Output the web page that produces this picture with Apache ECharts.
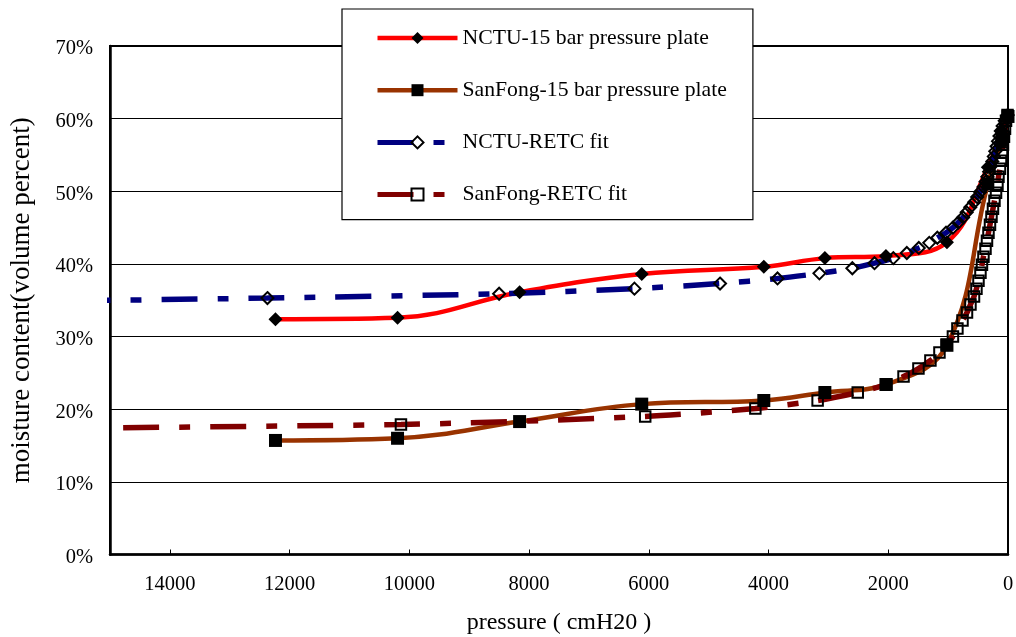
<!DOCTYPE html>
<html>
<head>
<meta charset="utf-8">
<script src="https://cdn.jsdelivr.net/npm/echarts@6/dist/echarts.min.js"></script>
<style>
html,body{margin:0;padding:0;background:#fff;}
#chart{width:1016px;height:637px;}
</style>
</head>
<body>
<div id="chart"></div>
<script>
// Measured pressure (cmH2O) for 15-bar pressure plate tests
const measPressure = [0, 102, 337, 1020, 2039, 3059, 4079, 6118, 8158, 10197, 12236];
const nctuMeasured = [60.5, 58.3, 53.3, 43.0, 41.1, 40.8, 39.6, 38.6, 36.1, 32.6, 32.4];
const sanfongMeasured = [60.3, 57.0, 51.0, 28.8, 23.4, 22.3, 21.2, 20.7, 18.3, 16.0, 15.7];

// RETC fitted curves (pressure, moisture %)
const nctuFitPressure = [18500, 12370, 8500, 6240, 4810, 3850, 3150, 2600, 2230, 1915, 1690, 1490, 1315, 1180, 1035, 920, 830, 750, 690, 630, 565, 515, 465, 410, 375, 345, 315, 290, 262, 237, 213, 190, 167, 143, 120, 90, 55, 15];
const nctuFitMoisture = [34.6, 35.3, 35.9, 36.6, 37.3, 38.0, 38.7, 39.4, 40.1, 40.8, 41.5, 42.2, 42.9, 43.6, 44.3, 45.0, 45.7, 46.4, 47.1, 47.8, 48.5, 49.2, 49.9, 50.6, 51.3, 52.0, 52.7, 53.4, 54.1, 54.8, 55.5, 56.2, 56.9, 57.6, 58.3, 59.0, 59.7, 60.4];
const sanfongFitPressure = [23500, 10140, 6060, 4220, 3180, 2510, 2030, 1745, 1496, 1296, 1145, 1025, 920, 845, 760, 685, 627, 568, 527, 493, 460, 435, 410, 376, 351, 326, 301, 276, 251, 226, 200, 176, 159, 134, 117, 100, 84, 67, 50, 33, 8];
const sanfongFitMoisture = [16.8, 17.9, 19.0, 20.1, 21.2, 22.3, 23.4, 24.5, 25.6, 26.7, 27.8, 28.9, 30.0, 31.1, 32.2, 33.3, 34.4, 35.5, 36.6, 37.7, 38.8, 39.9, 41.0, 42.1, 43.2, 44.3, 45.4, 46.5, 47.6, 48.7, 49.8, 50.9, 52.0, 53.1, 54.2, 55.3, 56.4, 57.5, 58.6, 59.7, 60.5];

const xTicks = [0, 2000, 4000, 6000, 8000, 10000, 12000, 14000];
const yTicks = [0, 10, 20, 30, 40, 50, 60, 70];

const seriesNames = ['NCTU-15 bar pressure plate', 'SanFong-15 bar pressure plate', 'NCTU-RETC fit', 'SanFong-RETC fit'];

function zip(a, b) { return a.map((v, i) => [v, b[i]]); }

const FONT = 'Liberation Serif';
const chart = echarts.init(document.getElementById('chart'), null, {renderer: 'canvas'});
const dash = [36, 20, 11, 20];

chart.setOption({
  animation: false,
  backgroundColor: '#fff',
  grid: {left: 110, right: 8, top: 46, bottom: 82.5, outerBoundsMode: 'none', containLabel: false,
    show: true, borderColor: '#000', borderWidth: 2, backgroundColor: 'transparent'},
  legend: {
    orient: 'vertical', left: 342, top: 9,
    padding: [18, 26, 14, 33],
    itemWidth: 80, itemHeight: 15, itemGap: 30.2,
    backgroundColor: '#fff', borderColor: '#000', borderWidth: 1.2,
    textStyle: {fontFamily: FONT, fontSize: 21.7, color: '#000'},
    data: [
      {name: seriesNames[0], lineStyle: {width: 4.5}},
      {name: seriesNames[1], lineStyle: {width: 4.5}},
      {name: seriesNames[2], lineStyle: {width: 5}},
      {name: seriesNames[3], lineStyle: {width: 5}}
    ]
  },
  xAxis: {
    type: 'value', inverse: true, min: xTicks[0], max: 15000, interval: 2000,
    axisLine: {onZero: false, lineStyle: {color: '#000', width: 2.5}},
    axisTick: {inside: true, length: 5, lineStyle: {color: '#000', width: 1}},
    splitLine: {show: false},
    axisLabel: {fontFamily: FONT, fontSize: 20.5, color: '#000', margin: 20, showMaxLabel: false,
      formatter: v => xTicks.indexOf(v) >= 0 ? String(v) : ''},
    name: 'pressure ( cmH20 )', nameLocation: 'middle', nameGap: 56,
    nameTextStyle: {fontFamily: FONT, fontSize: 24, color: '#000'}
  },
  yAxis: {
    type: 'value', min: yTicks[0], max: yTicks[yTicks.length - 1], interval: 10,
    axisLine: {show: true, onZero: false, lineStyle: {color: '#000', width: 2.5}},
    axisTick: {show: true, inside: true, length: 6, lineStyle: {color: '#000', width: 1}},
    splitLine: {show: true, lineStyle: {color: '#000', width: 1}},
    axisLabel: {margin: 17, formatter: v => '{t|' + v + '%}',
      rich: {t: {fontFamily: FONT, fontSize: 20.5, color: '#000', padding: [6, 0, 0, 0]}}},
    name: 'moisture content(volume percent)', nameLocation: 'middle', nameGap: 75,
    nameTextStyle: {fontFamily: FONT, fontSize: 27, color: '#000'}
  },
  series: [
    {
      name: seriesNames[0], type: 'line', smooth: 0.4,
      data: zip(measPressure, nctuMeasured),
      symbol: 'diamond', symbolSize: 14, showAllSymbol: true,
      itemStyle: {color: '#000'},
      lineStyle: {color: '#FF0000', width: 4.5}
    },
    {
      name: seriesNames[1], type: 'line', smooth: 0.4,
      data: zip(measPressure, sanfongMeasured),
      symbol: 'rect', symbolSize: 13, showAllSymbol: true,
      itemStyle: {color: '#000'},
      lineStyle: {color: '#993300', width: 4.5}
    },
    {
      name: seriesNames[2], type: 'line', smooth: 0.25,
      data: zip(nctuFitPressure, nctuFitMoisture),
      symbol: 'diamond', symbolSize: 12, showAllSymbol: true,
      itemStyle: {color: 'rgba(0,0,0,0)', borderColor: '#000', borderWidth: 2},
      lineStyle: {color: '#000080', width: 5.5, type: dash}
    },
    {
      name: seriesNames[3], type: 'line', smooth: 0.25,
      data: zip(sanfongFitPressure, sanfongFitMoisture),
      symbol: 'rect', symbolSize: 10.5, showAllSymbol: true,
      itemStyle: {color: 'rgba(0,0,0,0)', borderColor: '#000', borderWidth: 2},
      lineStyle: {color: '#800000', width: 5.5, type: dash}
    }
  ]
});
</script>
</body>
</html>
